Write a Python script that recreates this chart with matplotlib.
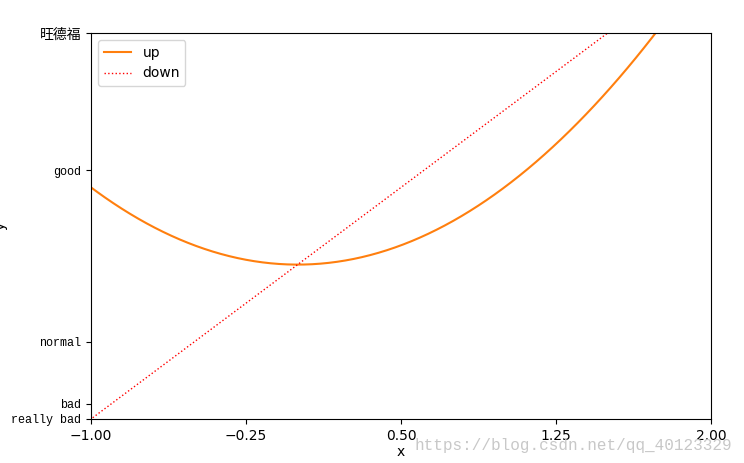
import numpy as np
import matplotlib
matplotlib.use("Agg")
import matplotlib.pyplot as plt

# curve data
x = np.linspace(-3, 3, 300)
y_down = 2 * x
y_up = x ** 2

xtick_vals = np.linspace(-1, 2, 5)
ytick_vals = [-2, -1.8, -1, 1.22, 3]
ytick_labels = ['really bad', 'bad', 'normal', 'good', '旺德福']

fig = plt.figure(figsize=(7.44, 4.63), dpi=100)
ax = fig.add_axes([91 / 744, 1 - 419 / 463, 620 / 744, 386 / 463])

l1, = ax.plot(x, y_up, color='C1', label='up')
l2, = ax.plot(x, y_down, color='red', linewidth=1.0, linestyle=':', label='down')

ax.set_xlim(-1, 2)
ax.set_ylim(-2, 3)
ax.set_xticks(xtick_vals)
ax.set_yticks(ytick_vals)
ax.set_yticklabels(ytick_labels, family=['Liberation Mono', 'Noto Sans CJK SC'], fontsize=8.5)
ax.get_yticklabels()[-1].set_fontsize(10)
ax.set_xlabel('x', labelpad=2)
ax.set_ylabel('y')
ax.yaxis.set_label_coords(-0.135, 0.5)

ax.legend(handles=[l1, l2], loc='upper left')

fig.text(0.557, 0.028, 'https://blog.csdn.net/qq_40123329', color='#c8c8c8',
         fontsize=11.5, family='Liberation Mono')

plt.savefig("out.png", dpi=100)
